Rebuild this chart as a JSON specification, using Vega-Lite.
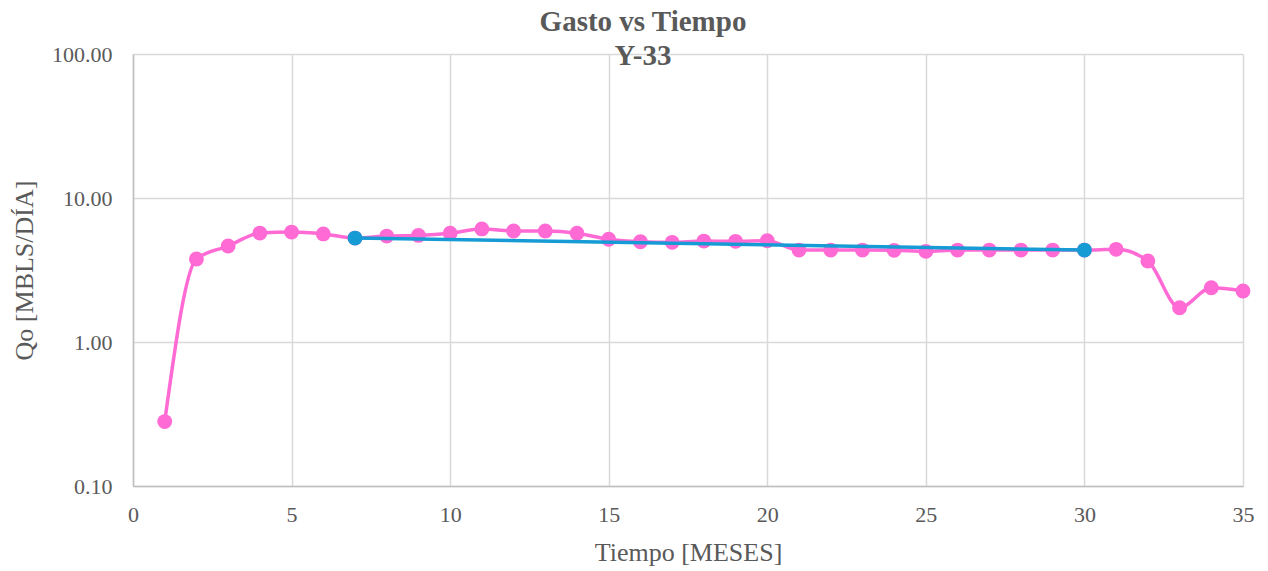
{
  "$schema": "https://vega.github.io/schema/vega-lite/v6.json",
  "autosize": "none",
  "width": 1110,
  "height": 432,
  "padding": {"left": 133, "top": 54, "right": 25, "bottom": 85},
  "background": "white",
  "config": {
    "view": {"stroke": null},
    "font": "Liberation Serif",
    "axis": {
      "labelFont": "Liberation Serif",
      "titleFont": "Liberation Serif",
      "labelColor": "#595959",
      "titleColor": "#595959",
      "labelFontSize": 22,
      "titleFontSize": 26,
      "titleFontWeight": "normal",
      "gridColor": "#d9d9d9",
      "gridWidth": 1.5,
      "domainColor": "#bfbfbf",
      "domainWidth": 1.5,
      "ticks": false,
      "labelFlush": false
    }
  },
  "title": {
    "text": ["Gasto vs Tiempo", "Y-33"],
    "font": "Liberation Serif",
    "fontSize": 29,
    "fontWeight": "bold",
    "color": "#595959",
    "anchor": "middle",
    "frame": "group",
    "dx": -45,
    "lineHeight": 34,
    "offset": -28
  },
  "data": {
    "values": [
      {"mes": 1, "qo": 0.28, "serie": "Qo"},
      {"mes": 2, "qo": 3.77, "serie": "Qo"},
      {"mes": 3, "qo": 4.64, "serie": "Qo"},
      {"mes": 4, "qo": 5.71, "serie": "Qo"},
      {"mes": 5, "qo": 5.8, "serie": "Qo"},
      {"mes": 6, "qo": 5.63, "serie": "Qo"},
      {"mes": 7, "qo": 5.27, "serie": "Qo"},
      {"mes": 8, "qo": 5.44, "serie": "Qo"},
      {"mes": 9, "qo": 5.5, "serie": "Qo"},
      {"mes": 10, "qo": 5.7, "serie": "Qo"},
      {"mes": 11, "qo": 6.1, "serie": "Qo"},
      {"mes": 12, "qo": 5.9, "serie": "Qo"},
      {"mes": 13, "qo": 5.9, "serie": "Qo"},
      {"mes": 14, "qo": 5.7, "serie": "Qo"},
      {"mes": 15, "qo": 5.17, "serie": "Qo"},
      {"mes": 16, "qo": 4.97, "serie": "Qo"},
      {"mes": 17, "qo": 4.92, "serie": "Qo"},
      {"mes": 18, "qo": 5.02, "serie": "Qo"},
      {"mes": 19, "qo": 5.0, "serie": "Qo"},
      {"mes": 20, "qo": 5.05, "serie": "Qo"},
      {"mes": 21, "qo": 4.35, "serie": "Qo"},
      {"mes": 22, "qo": 4.35, "serie": "Qo"},
      {"mes": 23, "qo": 4.35, "serie": "Qo"},
      {"mes": 24, "qo": 4.33, "serie": "Qo"},
      {"mes": 25, "qo": 4.26, "serie": "Qo"},
      {"mes": 26, "qo": 4.35, "serie": "Qo"},
      {"mes": 27, "qo": 4.35, "serie": "Qo"},
      {"mes": 28, "qo": 4.35, "serie": "Qo"},
      {"mes": 29, "qo": 4.35, "serie": "Qo"},
      {"mes": 30, "qo": 4.35, "serie": "Qo"},
      {"mes": 31, "qo": 4.4, "serie": "Qo"},
      {"mes": 32, "qo": 3.65, "serie": "Qo"},
      {"mes": 33, "qo": 1.73, "serie": "Qo"},
      {"mes": 34, "qo": 2.38, "serie": "Qo"},
      {"mes": 35, "qo": 2.26, "serie": "Qo"},
      {"mes": 7, "qo": 5.27, "serie": "Ajuste"},
      {"mes": 30, "qo": 4.35, "serie": "Ajuste"}
    ]
  },
  "encoding": {
    "x": {
      "field": "mes",
      "type": "quantitative",
      "scale": {"domain": [0, 35], "nice": false, "zero": false},
      "axis": {"values": [0, 5, 10, 15, 20, 25, 30, 35], "title": "Tiempo [MESES]", "labelPadding": 18, "titlePadding": 14}
    },
    "y": {
      "field": "qo",
      "type": "quantitative",
      "scale": {"type": "log", "domain": [0.1, 100], "nice": false},
      "axis": {"values": [0.1, 1, 10, 100], "format": ".2f", "title": "Qo [MBLS/DÍA]", "labelPadding": 21, "titlePadding": 14}
    }
  },
  "layer": [
    {
      "transform": [{"filter": "datum.serie === 'Qo'"}],
      "mark": {"type": "line", "interpolate": "monotone", "color": "#ff6ad5", "strokeWidth": 3.5}
    },
    {
      "transform": [{"filter": "datum.serie === 'Qo'"}],
      "mark": {"type": "point", "filled": true, "opacity": 1, "color": "#ff6ad5", "size": 220}
    },
    {
      "transform": [{"filter": "datum.serie === 'Ajuste'"}],
      "mark": {"type": "line", "color": "#169bd5", "strokeWidth": 3.5}
    },
    {
      "transform": [{"filter": "datum.serie === 'Ajuste'"}],
      "mark": {"type": "point", "filled": true, "opacity": 1, "color": "#169bd5", "size": 220}
    }
  ]
}
